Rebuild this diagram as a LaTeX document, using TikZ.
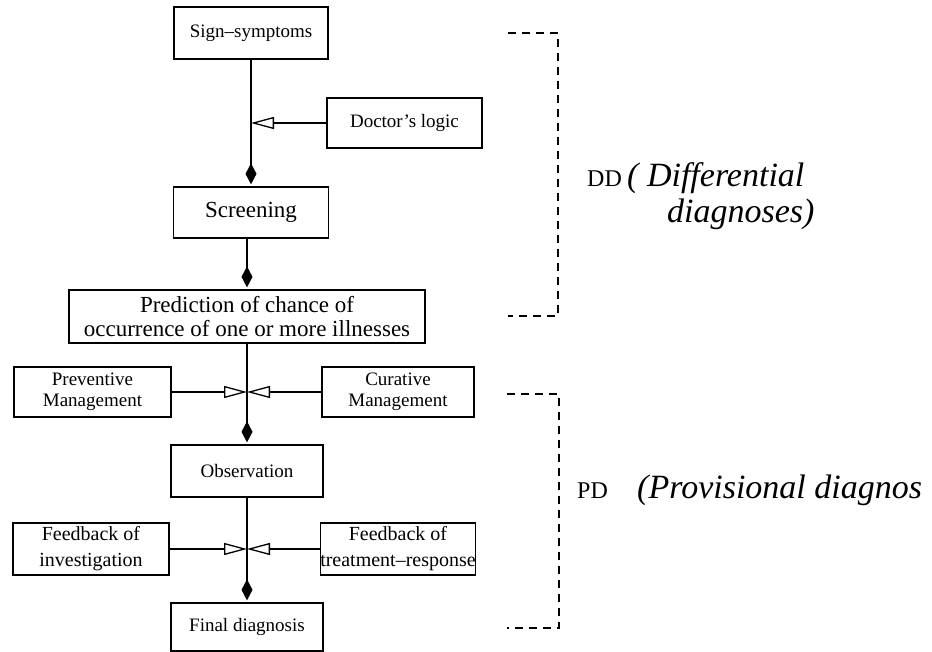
\documentclass[tikz,border=0pt]{standalone}
\usepackage{fontspec}
\setmainfont{Liberation Serif}
\usetikzlibrary{arrows.meta,calc}
\begin{document}
\begin{tikzpicture}[x=1pt,y=-1pt,
 box/.style={draw,line width=1.3pt,inner sep=0pt,align=center,font=\fontsize{19}{21}\selectfont},
 flow/.style={line width=1.3pt,-{Kite[length=21pt,width=11pt,inset=10.5pt]},shorten >=2pt},
 feed/.style={line width=1.3pt,-{Triangle[open,length=23pt,width=12pt]}},
 brk/.style={line width=1.1pt,dash pattern=on 8pt off 6pt},
 hand/.style={font=\fontsize{34}{36}\selectfont\itshape,anchor=base west,inner sep=0pt},
 tag/.style={font=\fontsize{24}{24}\selectfont,anchor=base west,inner sep=0pt}]
\useasboundingbox (0,0) rectangle (932,652);

\node[box,minimum width=154pt,minimum height=52pt] (sign) at (251,33) {Sign–symptoms};
\node[box,minimum width=155pt,minimum height=50pt] (doc) at (404.5,123) {Doctor’s logic};
\node[box,minimum width=155pt,minimum height=51pt,font=\fontsize{23}{24}\selectfont] (screen) at (251,212.5) {Screening};
\node[box,minimum width=356pt,minimum height=53pt,font=\fontsize{23}{23.5}\selectfont] (pred) at (247,316.5) {Prediction of chance of\\occurrence of one or more illnesses};
\node[box,minimum width=157pt,minimum height=50pt] (prev) at (92.5,392) {Preventive\\Management};
\node[box,minimum width=152pt,minimum height=50pt] (cur) at (398,392) {Curative\\Management};
\node[box,minimum width=152pt,minimum height=52pt] (obs) at (247,471) {Observation};
\node[box,minimum width=156pt,minimum height=52pt,font=\fontsize{20}{26}\selectfont] (fbi) at (91,549) {Feedback of\\investigation};
\node[box,minimum width=152pt,minimum height=52pt,font=\fontsize{20}{26}\selectfont] (fbt) at (398,549) {Feedback of\\treatment–response};
\node[box,minimum width=152pt,minimum height=48pt] (final) at (247,627) {Final diagnosis};

\coordinate (j0) at (doc.west -| sign.south);
\coordinate (j1) at (prev.east -| pred.south);
\coordinate (j2) at (fbi.east -| obs.south);

\draw[flow] (sign.south) -- (screen.north);
\draw[feed] (doc.west) -- (j0);
\draw[flow] (screen.south -| pred.north) -- (pred.north);
\draw[flow] (pred.south) -- (obs.north);
\draw[feed] (prev.east) -- (j1);
\draw[feed] (cur.west) -- (j1);
\draw[flow] (obs.south) -- (final.north);
\draw[feed] (fbi.east) -- (j2);
\draw[feed] (fbt.west) -- (j2);

\coordinate (b1a) at (508,33);
\coordinate (b1b) at (558,33);
\coordinate (b1c) at (558,316);
\coordinate (b1d) at (508,316);
\draw[brk] (b1a) -- (b1b) -- (b1c) -- (b1d);
\coordinate (b2a) at (507,394);
\coordinate (b2b) at (559,394);
\coordinate (b2c) at (559,628);
\coordinate (b2d) at (507,628);
\draw[brk] (b2a) -- (b2b) -- (b2c) -- (b2d);

\node[tag] (dd) at (587,187) {DD};
\node[hand] (ddh1) at (627,187) {( Differential};
\node[hand] (ddh2) at (667,223) {diagnoses)};
\node[tag] (pd) at (577,498) {PD};
\node[hand] (pdh) at (637,498) {(Provisional diagnos};
\end{tikzpicture}
\end{document}
